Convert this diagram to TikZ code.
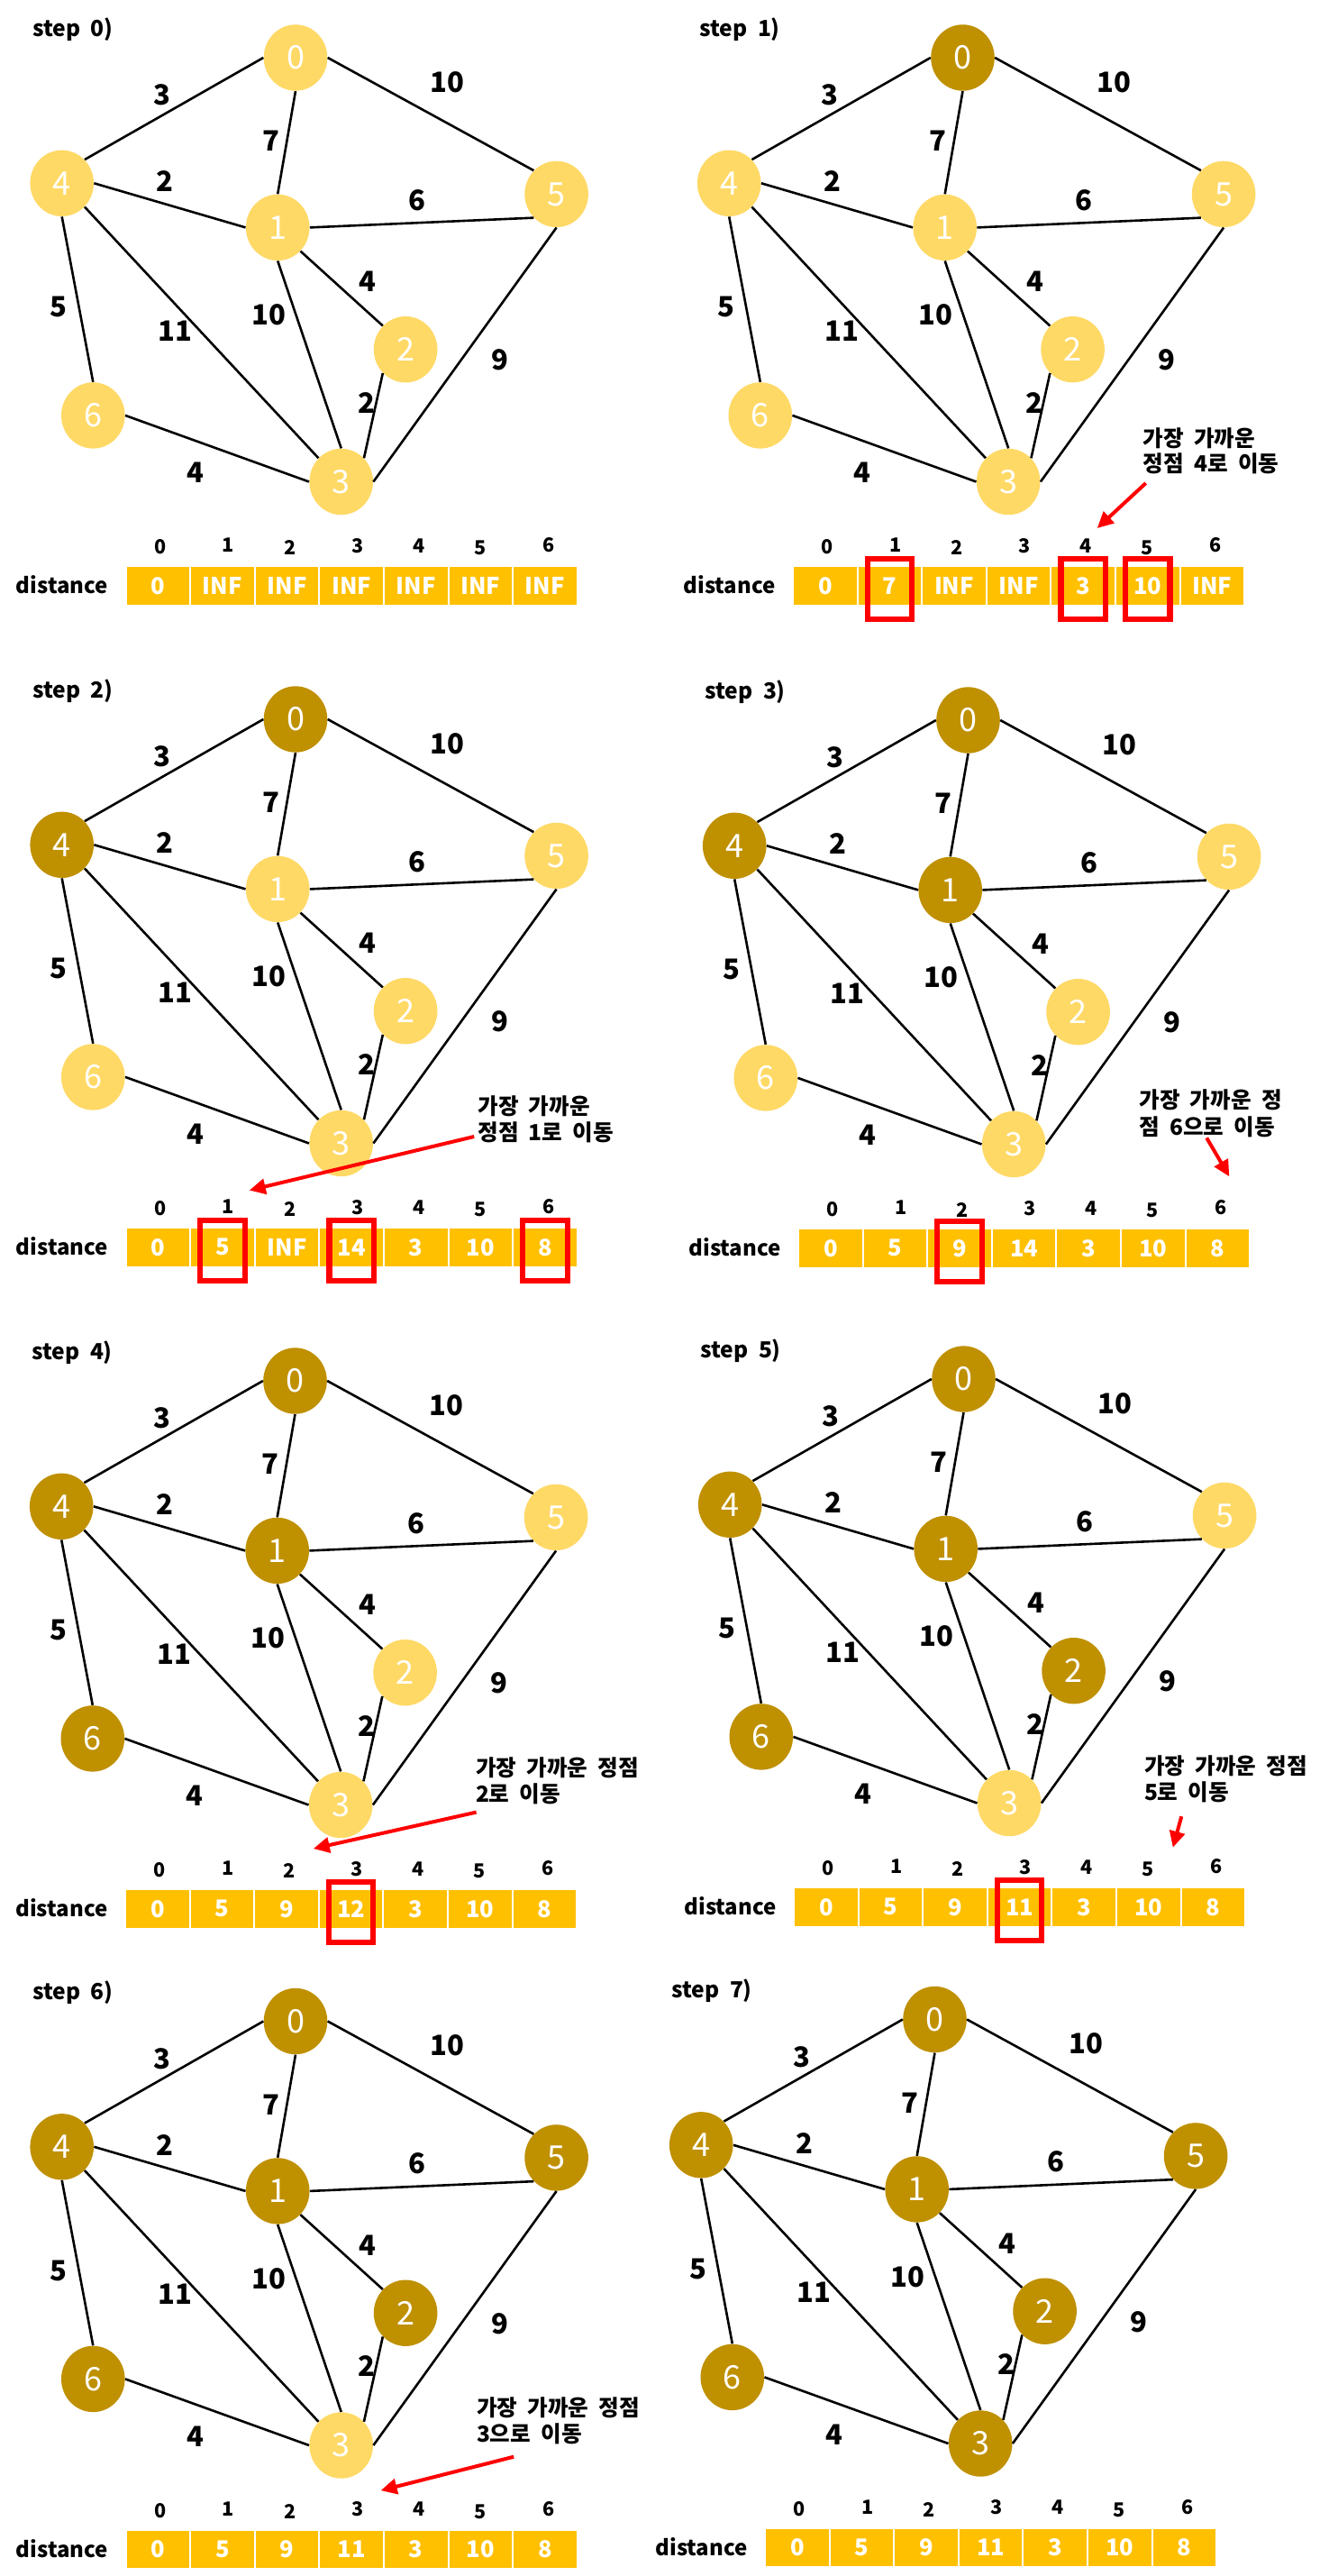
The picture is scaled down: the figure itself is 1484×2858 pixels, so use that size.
\documentclass[tikz,border=0pt]{standalone}
\usepackage{fontspec}
\setmainfont{Noto Sans CJK KR}[WordSpace=2]
\usetikzlibrary{shapes.geometric,arrows.meta}
\definecolor{goldlight}{HTML}{FFD966}
\definecolor{golddark}{HTML}{BF9000}
\definecolor{goldcell}{HTML}{FFC000}
\tikzset{
  vertex/.style={ellipse,minimum width=35.3pt,minimum height=36.7pt,inner sep=0pt,text=white,font=\fontsize{18}{18}\selectfont},
  link/.style={line width=1.3pt},
  wlabel/.style={font=\bfseries\fontsize{15.5}{16}\selectfont,inner sep=0pt},
  cell/.style={draw=white,line width=1pt,fill=goldcell,minimum width=35.8pt,minimum height=21.8pt,inner sep=0pt,text=white,font=\bfseries\fontsize{12.8}{13}\selectfont},
  idx/.style={font=\bfseries\fontsize{10.8}{11}\selectfont,inner sep=0pt},
  rowname/.style={anchor=west,font=\bfseries\fontsize{12}{12}\selectfont,inner sep=0pt},
  steplabel/.style={anchor=west,font=\bfseries\fontsize{12.3}{13}\selectfont,inner sep=0pt},
  hitbox/.style={draw=red,line width=3.1pt,minimum width=24.7pt,minimum height=33.4pt,inner sep=0pt},
  hinttext/.style={anchor=west,font=\bfseries\fontsize{12.3}{13}\selectfont,inner sep=0pt},
  hintarrow/.style={red,line width=2pt,-{Triangle[length=9pt,width=8.5pt]}},
}
% graph of one step: #1 prefix, #2 number of finished vertices
\def\dijkgraph#1#2{%
  \foreach \vid/\rank/\vx/\vy in {0/0/0/0,4/1/-259.3/139.3,1/2/-19.8/188.4,6/3/-224.7/396.9,2/4/122.1/323.7,5/5/289.6/151.4,3/6/50.7/470.5}
  {
    \ifnum\rank<#2 \def\vcol{golddark}\else\def\vcol{goldlight}\fi
    \node[vertex,fill=\vcol] (#1\vid) at (\vx,\vy) {\vid};
  }
  \foreach \ea/\sa/\eb/\sb/\wt/\lx/\ly in {0/west/4/north east/3/-148/41.5,0/east/5/north west/10/168/26.8,0/south/1/north/7/-27.4/92.4,4/east/1/west/2/-144.8/137,1/east/5/south west/6/134.9/158,1/south east/2/north west/4/80/248.6,4/south/6/north/5/-262.6/276.8,4/south east/3/north west/11/-133.9/303.1,1/south/3/north/10/-29.8/285.3,5/south/3/east/9/226.7/335.7,2/south west/3/north east/2/79/382.6,6/east/3/west/4/-111.2/460.7}
  {
    \draw[link] (#1\ea.\sa) -- (#1\eb.\sb);
    \node[wlabel] (#1w\ea\eb) at (\lx,\ly) {\wt};
  }
}
% distance table: #1 prefix, #2 values
\def\distrow#1#2{%
  \node[rowname] (#1name) at (-310.4,585) {distance};
  \foreach \val [count=\i from 0] in {#2}
    \node[cell] (#1c\i) at ({-152.7+71.6*\i},585.8) {\val};
  \foreach \i/\dx/\dy in {0/2.5/0.8,1/6.6/-1.5,2/3.1/1.7,3/6.6/-0.6,4/3.1/-0.6,5/-0.4/1.7,6/3.7/-1.5}
    \node[idx] (#1i\i) at ({-152.7+71.6*\i+\dx},{542.2+\dy}) {\i};
}
\def\markcell#1#2{\node[hitbox] (#1b#2) at ([yshift=-1.75pt]#1c#2) {};}
\def\hint#1#2#3#4#5#6#7#8{%
  \node[hinttext] (#1t1) at (#2,#3) {#5};
  \node[hinttext] (#1t2) at (#2,#4) {#6};
  \coordinate (#1p) at (#7);
  \coordinate (#1q) at (#8);
  \draw[hintarrow] (#1p) -- (#1q);
}
\begin{document}
\begin{tikzpicture}[x=0.5pt,y=-0.5pt]
\fill[white] (0,0) rectangle (1484,2858);
\useasboundingbox (0,0) rectangle (1484,2858);
% step 0
\begin{scope}[shift={(328,64)}]
  \node[steplabel] (asl) at (-292.4,-31.5) {step 0)};
  \dijkgraph{a}{0}
  \distrow{a}{0,INF,INF,INF,INF,INF,INF}
\end{scope}
% step 1
\begin{scope}[shift={(1068.5,64)}]
  \node[steplabel] (bsl) at (-292.4,-31.5) {step 1)};
  \dijkgraph{b}{1}
  \distrow{b}{0,7,INF,INF,3,10,INF}
  \markcell{b}{1}\markcell{b}{4}\markcell{b}{5}
  \hint{b}{199.7}{421.8}{450.7}{가장 가까운}{정점 4로 이동}{203.2,472}{149.2,522}
\end{scope}
% step 2
\begin{scope}[shift={(328,798)}]
  \node[steplabel] (csl) at (-292.4,-31.5) {step 2)};
  \dijkgraph{c}{2}
  \distrow{c}{0,5,INF,14,3,10,8}
  \markcell{c}{1}\markcell{c}{3}\markcell{c}{6}
  \hint{c}{202}{429.5}{458.4}{가장 가까운}{정점 1로 이동}{198.2,463}{-51.2,522.6}
\end{scope}
% step 3
\begin{scope}[shift={(1074.5,799)}]
  \node[steplabel] (dsl) at (-292.4,-31.5) {step 3)};
  \dijkgraph{d}{3}
  \distrow{d}{0,5,9,14,3,10,8}
  \markcell{d}{2}
  \hint{d}{189.5}{421.5}{451.3}{가장 가까운 정}{점 6으로 이동}{264.7,463.4}{289.8,506.3}
\end{scope}
% step 4
\begin{scope}[shift={(327.5,1532)}]
  \node[steplabel] (esl) at (-292.4,-31.5) {step 4)};
  \dijkgraph{e}{4}
  \distrow{e}{0,5,9,12,3,10,8}
  \markcell{e}{3}
  \hint{e}{200.1}{429.5}{458}{가장 가까운 정점}{2로 이동}{201.1,478.6}{20.3,519}
\end{scope}
% step 5
\begin{scope}[shift={(1069.5,1530)}]
  \node[steplabel] (fsl) at (-292.4,-31.5) {step 5)};
  \dijkgraph{f}{5}
  \distrow{f}{0,5,9,11,3,10,8}
  \markcell{f}{3}
  \hint{f}{200.1}{429.2}{458.6}{가장 가까운 정점}{5로 이동}{241.8,485.2}{232.3,519.7}
\end{scope}
% step 6
\begin{scope}[shift={(328,2242.5)}]
  \node[steplabel] (gsl) at (-292.4,-31.5) {step 6)};
  \dijkgraph{g}{6}
  \distrow{g}{0,5,9,11,3,10,8}
  \hint{g}{200.6}{429}{457.4}{가장 가까운 정점}{3으로 이동}{242.2,483.2}{94.6,520.6}
\end{scope}
% step 7
\begin{scope}[shift={(1037.5,2240.5)}]
  \node[steplabel] (hsl) at (-292.4,-31.5) {step 7)};
  \dijkgraph{h}{7}
  \distrow{h}{0,5,9,11,3,10,8}
\end{scope}
\end{tikzpicture}
\end{document}
